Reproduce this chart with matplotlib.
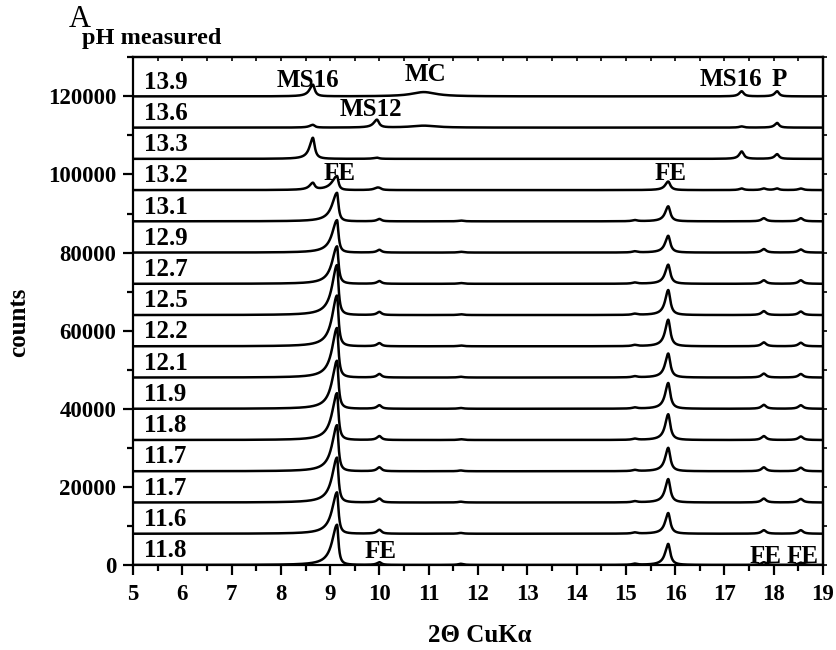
import numpy as np
import matplotlib
matplotlib.use("Agg")
import matplotlib.pyplot as plt
from matplotlib.ticker import MultipleLocator

# ---- data -------------------------------------------------------------
ph_labels = ["11.8", "11.6", "11.7", "11.7", "11.8", "11.9", "12.1", "12.2",
             "12.5", "12.7", "12.9", "13.1", "13.2", "13.3", "13.6", "13.9"]
offset_step = 8000  # vertical stacking offset between patterns (counts)

# peak heights (counts above each pattern's baseline), one entry per pattern
fe_9_15 = [10300, 10600, 11500, 11800, 12000, 12300, 12700, 13000,
           12800, 9600, 8300, 7300, 3600, 0, 0, 0]
fe_10_0 = [700, 1000, 1000, 1000, 1000, 900, 900, 800,
           800, 700, 700, 600, 400, 0, 0, 0]
fe_11_65 = [300, 200, 200, 200, 200, 200, 200, 200,
            200, 200, 200, 200, 0, 0, 0, 0]
fe_15_18 = [300, 300, 300, 300, 300, 300, 300, 300,
            300, 300, 300, 300, 0, 0, 0, 0]
fe_15_86 = [5400, 5300, 6000, 6000, 6600, 6600, 6150, 6800,
            6400, 4900, 4300, 3850, 2200, 0, 0, 0]
fe_17_8 = [700, 900, 1000, 1000, 1000, 1000, 1000, 1000,
           1000, 900, 900, 800, 400, 0, 0, 0]
fe_18_55 = [600, 900, 900, 900, 900, 900, 900, 900,
            900, 900, 800, 800, 400, 0, 0, 0]
ms16_8_65 = [0] * 12 + [1700, 5400, 700, 3000]
ms16_17_35 = [0] * 12 + [400, 1900, 300, 1300]
ms12_9_95 = [0] * 12 + [400, 300, 2000, 0]
mc_10_9 = [0] * 12 + [0, 0, 500, 1100]
p_18_07 = [0] * 12 + [400, 1200, 1200, 1300]

# reflection table: position (2-theta), left / right half widths, heights
reflections = [
    (9.14, 0.12, 0.035, fe_9_15),
    (10.0, 0.06, 0.05, fe_10_0),
    (11.65, 0.06, 0.06, fe_11_65),
    (15.18, 0.06, 0.06, fe_15_18),
    (15.86, 0.075, 0.05, fe_15_86),
    (17.8, 0.06, 0.055, fe_17_8),
    (18.55, 0.06, 0.055, fe_18_55),
    (8.65, 0.08, 0.045, ms16_8_65),
    (17.35, 0.06, 0.05, ms16_17_35),
    (9.95, 0.08, 0.05, ms12_9_95),
    (10.9, 0.3, 0.3, mc_10_9),
    (18.07, 0.06, 0.045, p_18_07),
]

# phase annotations: text, 2-theta, counts
annotations = [
    ("MS16", 8.55, 122300), ("MC", 10.94, 124000), ("MS12", 9.83, 114900),
    ("FE", 9.2, 98650), ("MS16", 17.13, 122700), ("P", 18.11, 122700),
    ("FE", 15.9, 98650), ("FE", 10.03, 1700), ("FE", 17.83, 600),
    ("FE", 18.58, 600),
]

x_ticks = list(range(5, 20))
y_ticks = [0, 20000, 40000, 60000, 80000, 100000, 120000]


def profile(x, x0, wl, wr, h):
    w = np.where(x < x0, wl, wr)
    return h / (1.0 + ((x - x0) / w) ** 2)


# ---- figure -----------------------------------------------------------
plt.rcParams['font.family'] = ['Liberation Serif', 'DejaVu Serif']
plt.rcParams['font.weight'] = 'bold'

fig = plt.figure(figsize=(8.37, 6.5), dpi=100)
ax = fig.add_axes([0.1589, 0.1308, 0.8244, 0.781])

two_theta = np.linspace(5, 19, 4201)
for i, lab in enumerate(ph_labels):
    base = i * offset_step
    y = np.zeros_like(two_theta)
    for x0, wl, wr, heights in reflections:
        if heights[i]:
            y += profile(two_theta, x0, wl, wr, heights[i])
    ax.plot(two_theta, base + y, color='black', lw=1.8, solid_joinstyle='round')
    ax.text(5.22, base + 2000, lab, fontsize=18, fontweight='bold',
            ha='left', va='baseline')

for txt, xx, yy in annotations:
    ax.text(xx, yy, txt, fontsize=18, fontweight='bold', ha='center', va='baseline')

ax.set_xlim(5, 19)
ax.set_ylim(0, 130000)
ax.set_xticks(x_ticks)
ax.set_yticks(y_ticks)
ax.xaxis.set_minor_locator(MultipleLocator(0.5))
ax.yaxis.set_minor_locator(MultipleLocator(10000))
ax.tick_params(which='major', direction='out', length=7, width=1.6,
               labelsize=16.5, pad=5)
ax.tick_params(which='minor', direction='out', length=4, width=1.6)
ax.tick_params(axis='x', pad=7)
for lbl in ax.get_xticklabels() + ax.get_yticklabels():
    lbl.set_fontweight('bold')
for sp in ax.spines.values():
    sp.set_linewidth(1.6)

top = ax.secondary_xaxis('top')
top.set_xticks(np.arange(5, 19.01, 0.5))
top.tick_params(direction='in', length=3, width=1.2, labeltop=False)
top.spines['top'].set_linewidth(1.6)

right = ax.secondary_yaxis('right')
right.set_yticks(np.arange(0, 130001, 10000))
right.tick_params(direction='out', length=3, width=1.2, labelright=False)
right.spines['right'].set_linewidth(1.6)

fig.text(480 / 837, 1 - 635 / 650, "2Θ CuKα", fontsize=18, fontweight='bold',
         ha='center', va='center')
fig.text(19 / 837, 1 - 322 / 650, "counts", fontsize=18, fontweight='bold',
         ha='center', va='center', rotation=90)
fig.text(69 / 837, 1 - 27 / 650, "A", fontsize=22, fontweight='normal',
         ha='left', va='baseline')
fig.text(82 / 837, 1 - 44 / 650, "pH measured", fontsize=17.5, fontweight='bold',
         ha='left', va='baseline')

fig.savefig("out.png", dpi=100)
